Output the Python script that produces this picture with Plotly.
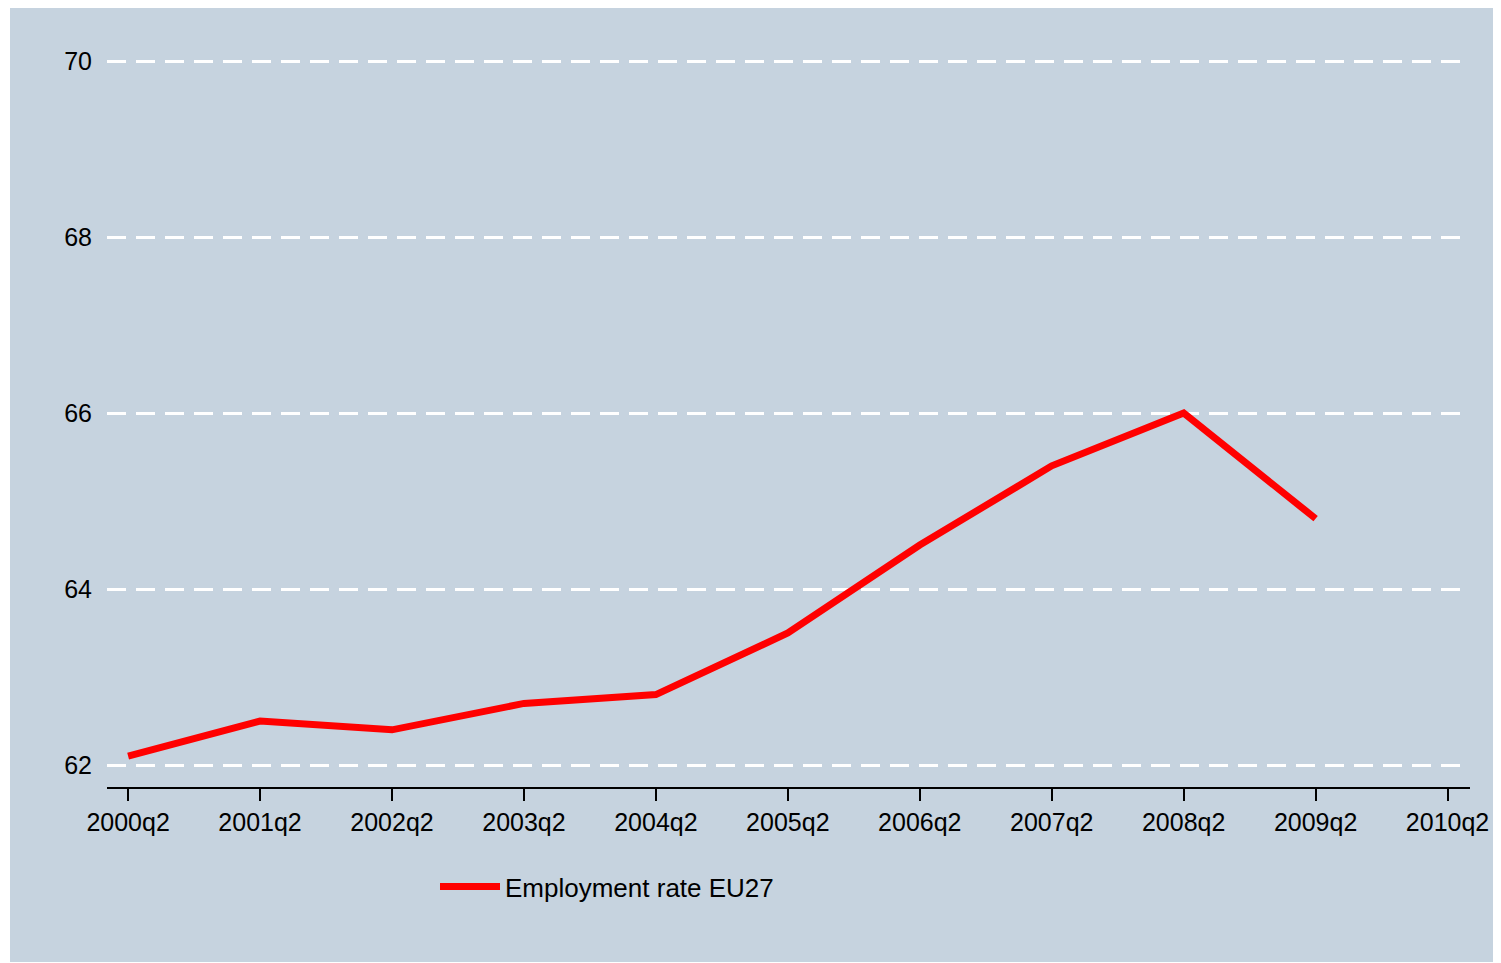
import plotly.graph_objects as go

quarters = ["2000q2", "2001q2", "2002q2", "2003q2", "2004q2", "2005q2",
            "2006q2", "2007q2", "2008q2", "2009q2", "2010q2"]
emp_quarters = quarters[:10]
emp_rate = [62.1, 62.5, 62.4, 62.7, 62.8, 63.5, 64.5, 65.4, 66.0, 64.8]
y_ticks = [62, 64, 66, 68, 70]

BG = "#C6D3DF"
# page has an 8px body margin, so the figure is a bit smaller than the window
W, H = 1493, 955
L, R, T, B = 99, 31, 32, 176
pw, ph = W - L - R, H - T - B


def px_x(p):
    return (p - L) / pw


def px_y(p):
    return (H - B - p) / ph


fig = go.Figure()
fig.add_trace(go.Scatter(
    x=emp_quarters, y=emp_rate,
    mode="lines",
    line=dict(color="#FF0000", width=7),
    name="Employment rate EU27",
))

fig.update_layout(
    width=W, height=H,
    paper_bgcolor=BG,
    plot_bgcolor=BG,
    margin=dict(l=L, r=R, t=T, b=B),
    font=dict(family="Liberation Sans, Arial", size=25, color="black"),
    showlegend=True,
    legend=dict(
        orientation="h",
        x=px_x(427), y=px_y(855),
        xanchor="left", yanchor="top",
        bgcolor="rgba(0,0,0,0)",
        itemwidth=60,
        font=dict(size=26),
    ),
    xaxis=dict(
        type="category",
        categoryorder="array",
        categoryarray=quarters,
        tickvals=quarters,
        range=[-0.16, 10.17],
        showgrid=False,
        zeroline=False,
        showline=True, linecolor="black", linewidth=2,
        ticks="outside", ticklen=12, tickwidth=2, tickcolor="black",
    ),
    yaxis=dict(
        range=[61.75, 70.24],
        tickvals=y_ticks,
        showgrid=True, gridcolor="white", gridwidth=2.5,
        griddash="19px,10px",
        zeroline=False,
        showline=False,
        ticks="",
        ticklabelstandoff=14,
    ),
    shapes=[
        # white strip at the left edge
        dict(type="rect", xref="paper", yref="paper",
             x0=px_x(0), x1=px_x(2), y0=px_y(H), y1=px_y(0),
             fillcolor="white", line=dict(width=0), layer="above"),
        dict(type="rect", xref="paper", yref="paper",
             x0=px_x(0), x1=px_x(W), y0=px_y(H), y1=px_y(954),
             fillcolor="white", line=dict(width=0), layer="above"),
    ],
)

fig.write_html("out.html")
